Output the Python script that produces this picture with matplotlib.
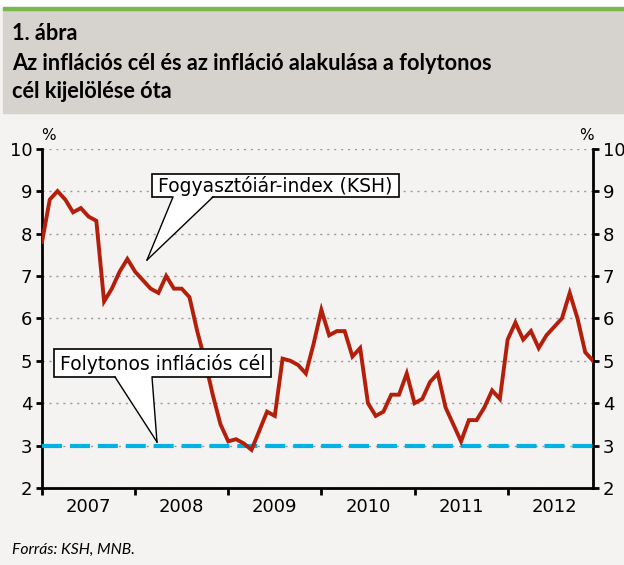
import numpy as np
import matplotlib.pyplot as plt
from matplotlib.patches import Rectangle, Polygon
from matplotlib.lines import Line2D

plt.rcParams['font.family'] = ['DejaVu Sans']

# havi infláció (%), 2007 jan - 2012 dec
years = ['2007', '2008', '2009', '2010', '2011', '2012']
cpi_2007 = [7.8, 8.8, 9.0, 8.8, 8.5, 8.6, 8.4, 8.3, 6.4, 6.7, 7.1, 7.4]
cpi_2008 = [7.1, 6.9, 6.7, 6.6, 7.0, 6.7, 6.7, 6.5, 5.7, 5.0, 4.2, 3.5]
cpi_2009 = [3.1, 3.15, 3.05, 2.9, 3.35, 3.8, 3.7, 5.05, 5.0, 4.9, 4.7, 5.4]
cpi_2010 = [6.2, 5.6, 5.7, 5.7, 5.1, 5.3, 4.0, 3.7, 3.8, 4.2, 4.2, 4.7]
cpi_2011 = [4.0, 4.1, 4.5, 4.7, 3.9, 3.5, 3.1, 3.6, 3.6, 3.9, 4.3, 4.1]
cpi_2012 = [5.5, 5.9, 5.5, 5.7, 5.3, 5.6, 5.8, 6.0, 6.6, 6.0, 5.2, 5.0]
target = 3.0

cpi = cpi_2007 + cpi_2008 + cpi_2009 + cpi_2010 + cpi_2011 + cpi_2012
months = np.arange(len(cpi))

W, H = 624, 565
bg = '#f4f3f1'
fig = plt.figure(figsize=(W / 100, H / 100), dpi=100, facecolor=bg)


def fx(px):
    return px / W


def fy(py):
    return 1 - py / H


# fejléc sáv
fig.add_artist(Rectangle((0, fy(7)), 1, 7 / H, transform=fig.transFigure, color='white', zorder=0))
fig.add_artist(Rectangle((fx(3), fy(113)), 1, 103 / H, transform=fig.transFigure, color='#d6d2cd', zorder=0))
fig.add_artist(Rectangle((fx(3), fy(10)), 1, 3 / H, transform=fig.transFigure, color='#7ab648', zorder=1))

title_font = dict(fontsize=15.7, fontweight='bold', va='center', family=['Lato', 'DejaVu Sans'])
fig.text(fx(12), fy(33), '1. ábra', **title_font)
fig.text(fx(12), fy(63), 'Az inflációs cél és az infláció alakulása a folytonos', **title_font)
fig.text(fx(12), fy(91), 'cél kijelölése óta', **title_font)
fig.text(fx(12), fy(550), 'Forrás: KSH, MNB.', fontsize=11.3, style='italic', va='center',
         family=['Lato', 'DejaVu Sans'])

ax = fig.add_axes([fx(42), fy(488), (593 - 42) / W, (488 - 148.7) / H])
ax.set_facecolor('none')

ax.plot(months, cpi, color='#b31f0b', lw=2.8, zorder=4, solid_joinstyle='miter')
ax.axhline(target, color='#00b2e3', lw=3, dashes=(4.8, 1.9), zorder=3)

ax.set_xlim(0, len(cpi) - 1)
ax.set_ylim(2, 10)
ax.set_yticks(range(2, 11))
ax.yaxis.grid(True, linestyle=(0, (1.5, 3.5)), color='#9a9a9a', lw=1)
ax.set_axisbelow(True)

ax.set_xticks(np.arange(0, len(cpi), 12))
ax.set_xticklabels([])
ax.set_xticks(np.arange(6, len(cpi), 12), minor=True)
ax.set_xticklabels(years, minor=True)

ax.tick_params(axis='y', which='both', direction='out', length=4, width=2,
               left=True, right=True, labelleft=True, labelright=True, labelsize=13, pad=3)
ax.tick_params(axis='x', which='major', direction='out', length=5, width=2)
ax.tick_params(axis='x', which='minor', length=0, labelsize=13, pad=7)

for s in ['left', 'right', 'bottom']:
    ax.spines[s].set_linewidth(2)
ax.spines['top'].set_visible(False)

fig.text(fx(48), fy(135), '%', fontsize=11, ha='center', va='center')
fig.text(fx(586), fy(135), '%', fontsize=11, ha='center', va='center')


def callout(text, box, base, tip):
    x0, y0, x1, y1 = box
    fig.add_artist(Rectangle((fx(x0), fy(y1)), (x1 - x0) / W, (y1 - y0) / H,
                             transform=fig.transFigure, fc='white', ec='black', lw=1.2, zorder=5))
    bl, br = base
    fig.add_artist(Polygon([(fx(bl), fy(y1 - 1.5)), (fx(br), fy(y1 - 1.5)), (fx(tip[0]), fy(tip[1]))],
                           closed=True, transform=fig.transFigure, fc='white', ec='none', zorder=6))
    for bx in (bl, br):
        fig.add_artist(Line2D([fx(bx), fx(tip[0])], [fy(y1), fy(tip[1])],
                              transform=fig.transFigure, color='black', lw=1, zorder=6))
    fig.text(fx((x0 + x1) / 2), fy((y0 + y1) / 2 + 1), text, fontsize=13.5,
             ha='center', va='center', zorder=7)


callout('Fogyasztóiár-index (KSH)', (152, 174, 399, 197), (173, 213), (147, 260))
callout('Folytonos inflációs cél', (54, 349, 271, 377), (115, 152), (157, 442))

fig.savefig('out.png', dpi=100, facecolor=bg)
